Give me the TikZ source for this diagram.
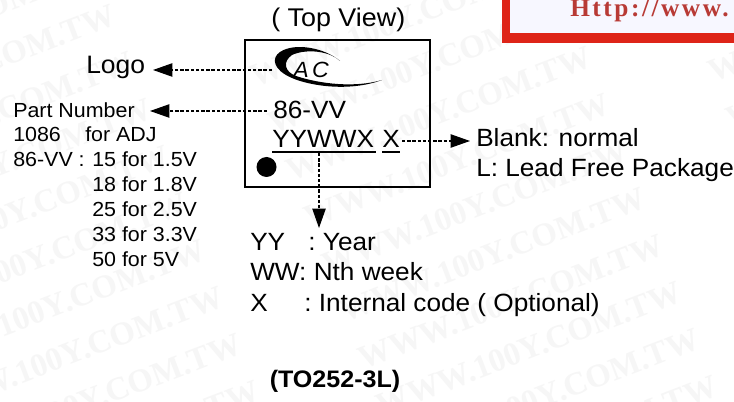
\documentclass[tikz,border=0pt]{standalone}
\usepackage{fontspec}
\setmainfont[FakeStretch=1.05]{Liberation Sans}
\newfontfamily\wmfont{Liberation Serif}
\newfontfamily\urlfont[LetterSpace=10]{Liberation Serif}
\usetikzlibrary{arrows.meta}
\definecolor{redbox}{HTML}{DE2418}
\definecolor{urlred}{HTML}{B83A35}
\definecolor{wm}{HTML}{F6F6F6}
\tikzset{
  x=0.75pt,y=-0.75pt,
  lbl/.style={anchor=base west,inner sep=0pt,font=\fontsize{18.7}{20}\selectfont},
  sml/.style={anchor=base west,inner sep=0pt,font=\fontsize{15.3}{16}\selectfont},
  wmark/.style={inner sep=0pt,anchor=north east,rotate=21,text=wm,font=\wmfont\bfseries\fontsize{24.5}{26}\selectfont},
  leader/.style={dash pattern=on 2.6pt off 1.3pt,line width=0.8pt,-{Triangle[length=14.5pt,width=10pt]}},
}
\begin{document}
\begin{tikzpicture}
\useasboundingbox (0,0) rectangle (734,402);
\fill[white] (0,0) rectangle (734,402);
% watermark
\foreach \r in {-1,0,...,8} {
  \foreach \c in {0,1,2} {
    \node[wmark] (w\c x\r) at ({110+18*\r+458*\c},{3+47*\r-5*\c}) {WWW.100Y.COM.TW};
  }
}
% red banner
\fill[redbox] (502,-5) rectangle (740,43);
\fill[white!97!blue] (510,-5) rectangle (740,33);
\node[anchor=base west,inner sep=0pt,text=urlred,font=\urlfont\bfseries\fontsize{19}{20}\selectfont] (url) at (570,17) {Http://www.};
% chip
\draw[line width=1.5pt] (245,40.5) rectangle (430,187);
\fill (266.5,167) circle[radius=10];
% logo
\fill (340,61) .. controls (325,48) and (295,42) .. (280,52)
  .. controls (271,58) and (273,70) .. (292,78)
  .. controls (310,86) and (350,92) .. (382,80)
  .. controls (355,88) and (320,84) .. (296,76)
  .. controls (285,72) and (282,62) .. (292,55)
  .. controls (305,49) and (328,50) .. (340,61) -- cycle;
\node[inner sep=0pt,font=\itshape\fontsize{16.5}{18}\selectfont] (logoimg) at (311,69.5) {A\kern2.5pt C};
\coordinate (logoend) at (272,70);
% texts
\node[lbl,font=\fontsize{19.2}{20}\selectfont] (top) at (271,27) {( Top View)};
\node[lbl,font=\fontsize{18.9}{20}\selectfont] (logo) at (86,74) {Logo};
\node[lbl] (pn) at (273,119) {86-VV};
\node[lbl] (yyww) at (272,148) {YYWWX};
\node[lbl] (xx) at (382,148) {X};
\draw[line width=0.9pt] (272,152) -- (376,152);
\draw[line width=0.9pt] (382,152) -- (400,152);
\coordinate (under) at (319,153);
\coordinate (pnend) at (267,111);
\node[sml] (part) at (13,118) {Part Number};
\node[sml] (a1) at (13,142) {1086};
\node[sml] (a2) at (85,142) {for ADJ};
\node[sml] (b0) at (13,167) {86-VV :};
\node[sml] (b1) at (92,167) {15 for 1.5V};
\node[sml] (b2) at (92,192) {18 for 1.8V};
\node[sml] (b3) at (92,217) {25 for 2.5V};
\node[sml] (b4) at (92,242) {33 for 3.3V};
\node[sml] (b5) at (92,267) {50 for 5V};
\node[lbl] (blank) at (476,147) {Blank: normal};
\node[lbl] (lead) at (476,177) {L: Lead Free Package};
\node[lbl] (year) at (250,251) {YY\hspace{12pt} : Year};
\node[lbl] (week) at (250,281) {WW: Nth week};
\node[lbl] (code) at (250,311) {X\hspace{22pt} : Internal code ( Optional)};
\node[anchor=base,inner sep=0pt,font=\bfseries\fontsize{17.9}{18}\selectfont] (pkg) at (335,387) {(TO252-3L)};
\coordinate (logotip) at (153,70);
\coordinate (parttip) at (150,111);
\coordinate (xtip) at (470,141);
\coordinate (xstart) at (402,141);
\coordinate (downtip) at (319,228);
% connectors
\draw[leader] (logoend) -- (logotip);
\draw[leader] (pnend) -- (parttip);
\draw[leader] (xstart) -- (xtip);
\draw[leader] (under) -- (downtip);
\end{tikzpicture}
\end{document}
